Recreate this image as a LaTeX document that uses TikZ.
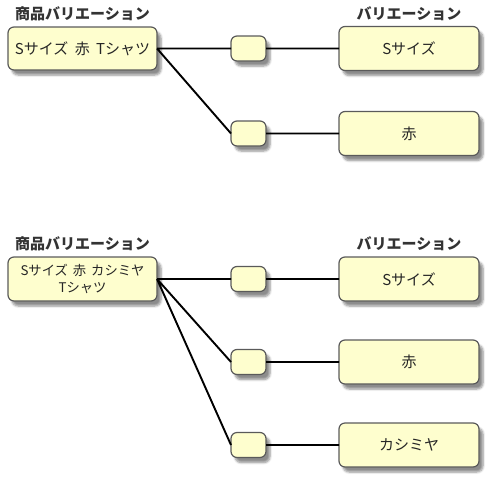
\documentclass[tikz,border=0pt]{standalone}
\usepackage{fontspec}
\setmainfont{Noto Sans CJK JP}
\usetikzlibrary{positioning,shadows.blur}
\definecolor{boxfill}{HTML}{FEFECE}
\definecolor{boxline}{HTML}{5A5A5A}

\begin{document}
\begin{tikzpicture}[x=1pt,y=-1pt,
  box/.style={draw=boxline, fill=boxfill, line width=1.2pt, rounded corners=6pt,
    outer sep=0pt, text=black!85, font=\fontsize{15}{18}\selectfont,
    blur shadow={shadow xshift=4pt, shadow yshift=-5pt, shadow blur steps=6, shadow opacity=45}},
  item/.style={box, minimum width=149pt, minimum height=43pt},
  knot/.style={box, minimum width=35pt, minimum height=25pt},
  value/.style={box, minimum width=140pt, minimum height=44pt},
  title/.style={font=\bfseries\fontsize{15}{17}\selectfont, text=black!80, inner sep=1pt},
  link/.style={line width=1.9pt}]

  \useasboundingbox (0,0) rectangle (500,490);

  \node [item] (p1) at (82.5,48.5) {Sサイズ\hspace{3pt} 赤\hspace{3pt} Tシャツ};
  \node [title, above=5pt of p1] (t1) {商品バリエーション};
  \node [knot, right=74pt of p1] (k1) {};
  \node [knot, below=60pt of k1] (k2) {};
  \node [value, right=73pt of k1] (v1) {Sサイズ};
  \node [value, right=73pt of k2] (v2) {赤};
  \node [title, above=5pt of v1] (t2) {バリエーション};

  \draw [link] (p1.east) -- (k1.west) (p1.east) -- (k2.west)
    (k1) -- (v1) (k2) -- (v2);

  \node [item, minimum height=44pt, align=center, font=\fontsize{13.3}{17}\selectfont] (p2) at (82.5,279) {Sサイズ\hspace{2pt} 赤\hspace{2pt} カシミヤ\\Tシャツ};
  \node [title, above=5pt of p2] (t3) {商品バリエーション};
  \node [knot, right=74pt of p2] (k3) {};
  \node [knot, below=58pt of k3] (k4) {};
  \node [knot, below=58pt of k4] (k5) {};
  \node [value, right=73pt of k3] (v3) {Sサイズ};
  \node [value, right=73pt of k4] (v4) {赤};
  \node [value, right=73pt of k5] (v5) {カシミヤ};
  \node [title, above=5pt of v3] (t4) {バリエーション};

  \draw [link] (p2.east) -- (k3.west) (p2.east) -- (k4.west) (p2.east) -- (k5.west)
    (k3) -- (v3) (k4) -- (v4) (k5) -- (v5);
\end{tikzpicture}
\end{document}
